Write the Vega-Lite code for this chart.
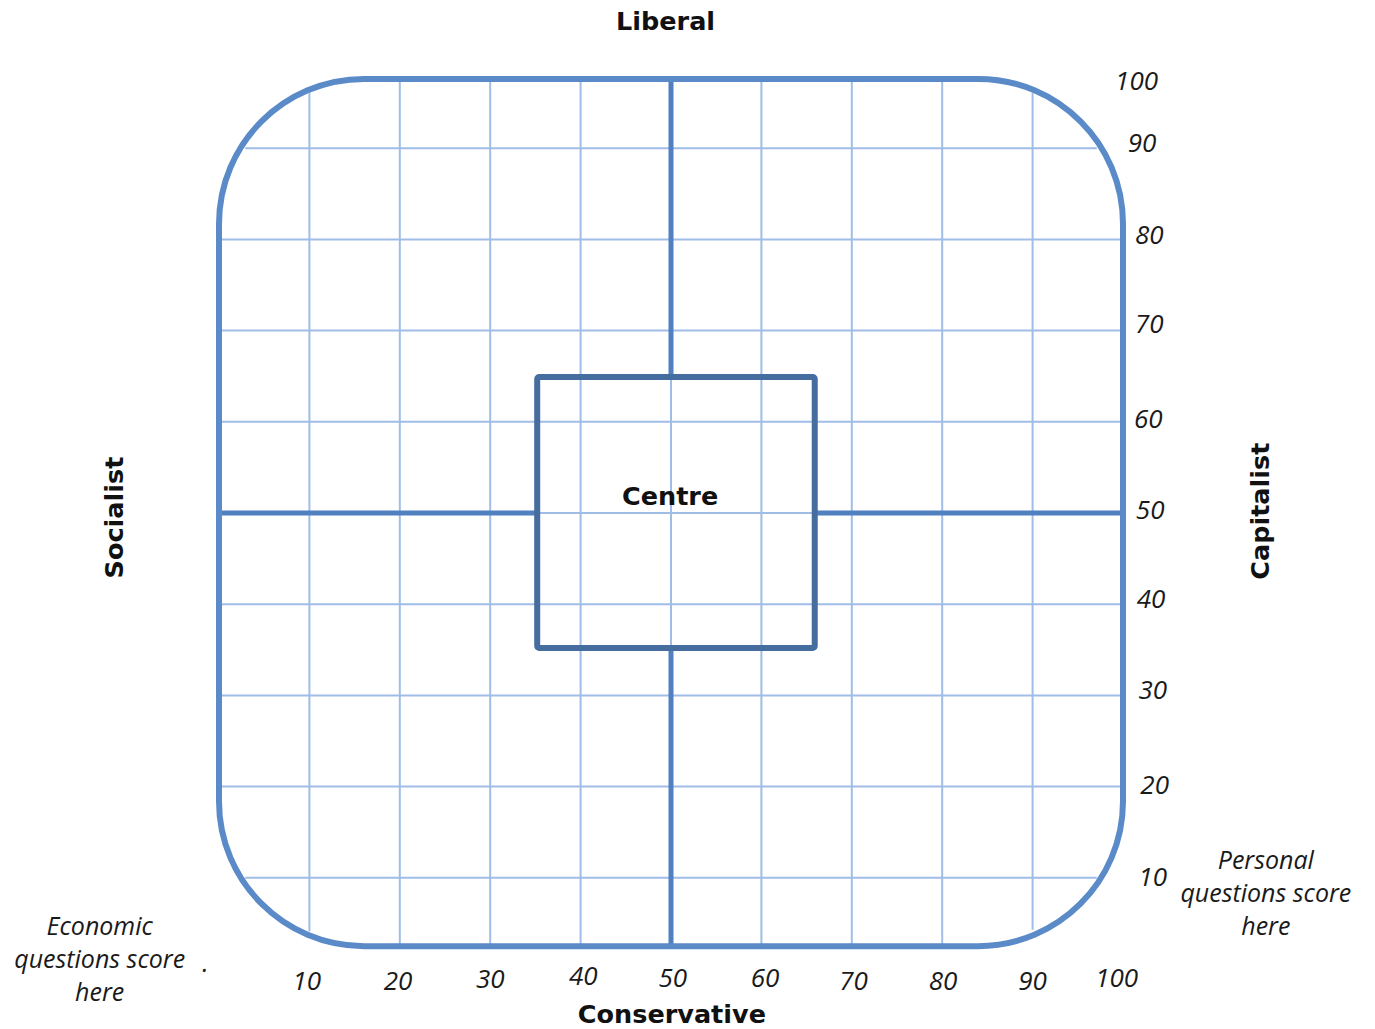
{
  "$schema": "https://vega.github.io/schema/vega-lite/v6.json",
  "width": 904,
  "height": 912,
  "autosize": {"type": "none"},
  "padding": {"left": 219, "top": 57, "right": 252, "bottom": 60},
  "background": "white",
  "config": {"view": {"stroke": null}},
  "datasets": {
    "vgrid": [
      {"x": 10, "y1": 4.1, "y2": 96.3},
      {"x": 20, "y1": 2.5, "y2": 97.6},
      {"x": 30, "y1": 2.5, "y2": 97.6},
      {"x": 40, "y1": 2.5, "y2": 97.6},
      {"x": 50, "y1": 2.5, "y2": 97.6},
      {"x": 60, "y1": 2.5, "y2": 97.6},
      {"x": 70, "y1": 2.5, "y2": 97.6},
      {"x": 80, "y1": 2.5, "y2": 97.6},
      {"x": 90, "y1": 4.3, "y2": 96.1}
    ],
    "hgrid": [
      {"y": 10, "x1": 2.9, "x2": 97.1},
      {"y": 20, "x1": 0, "x2": 100},
      {"y": 30, "x1": 0, "x2": 100},
      {"y": 40, "x1": 0, "x2": 100},
      {"y": 50, "x1": 0, "x2": 100},
      {"y": 60, "x1": 0, "x2": 100},
      {"y": 70, "x1": 0, "x2": 100},
      {"y": 80, "x1": 0, "x2": 100},
      {"y": 90, "x1": 2.9, "x2": 97.1}
    ],
    "cross": [
      {"x1": 50, "x2": 50, "y1": 64.9, "y2": 97.6},
      {"x1": 50, "x2": 50, "y1": 2.5, "y2": 35.2},
      {"x1": 0, "x2": 35.2, "y1": 50, "y2": 50},
      {"x1": 65.9, "x2": 100, "y1": 50, "y2": 50}
    ],
    "frame": [{"x1": 0, "x2": 100, "y1": 2.5, "y2": 97.6}],
    "box": [{"x1": 35.2, "x2": 65.9, "y1": 35.2, "y2": 64.9}],
    "ticks": [
      {"label": "100", "x": 101.5, "y": 97.3},
      {"label": "90", "x": 102.1, "y": 90.5},
      {"label": "80", "x": 102.9, "y": 80.4},
      {"label": "70", "x": 102.9, "y": 70.6},
      {"label": "60", "x": 102.8, "y": 60.2},
      {"label": "50", "x": 103.0, "y": 50.2},
      {"label": "40", "x": 103.1, "y": 40.5},
      {"label": "30", "x": 103.3, "y": 30.5},
      {"label": "20", "x": 103.5, "y": 20.1},
      {"label": "10", "x": 103.3, "y": 10.0},
      {"label": "10", "x": 9.7, "y": -1.4},
      {"label": "20", "x": 19.8, "y": -1.4},
      {"label": "30", "x": 30.0, "y": -1.2},
      {"label": "40", "x": 40.3, "y": -0.9},
      {"label": "50", "x": 50.2, "y": -1.1},
      {"label": "60", "x": 60.4, "y": -1.1},
      {"label": "70", "x": 70.2, "y": -1.4},
      {"label": "80", "x": 80.1, "y": -1.4},
      {"label": "90", "x": 90.0, "y": -1.4},
      {"label": "100", "x": 99.3, "y": -1.1}
    ],
    "titles": [
      {"label": "Liberal", "x": 49.4, "y": 103.8, "angle": 0},
      {"label": "Conservative", "x": 50.1, "y": -5.0, "angle": 0},
      {"label": "Centre", "x": 49.9, "y": 51.8, "angle": 0},
      {"label": "Socialist", "x": -11.5, "y": 49.5, "angle": 270},
      {"label": "Capitalist", "x": 115.3, "y": 50.2, "angle": 270}
    ],
    "notes": [
      {"label": "Economic", "x": -13.2, "y": 4.6},
      {"label": "questions score", "x": -13.2, "y": 1.0},
      {"label": "here", "x": -13.2, "y": -2.6},
      {"label": ".", "x": -1.5, "y": 0.6},
      {"label": "Personal", "x": 115.8, "y": 11.8},
      {"label": "questions score", "x": 115.8, "y": 8.2},
      {"label": "here", "x": 115.8, "y": 4.6}
    ]
  },
  "layer": [
    {
      "data": {"name": "vgrid"},
      "mark": {"type": "rule", "color": "#9fbde6", "strokeWidth": 2},
      "encoding": {
        "x": {"field": "x", "type": "quantitative", "scale": {"domain": [0, 100], "nice": false, "zero": false}, "axis": null},
        "y": {"field": "y1", "type": "quantitative", "scale": {"domain": [0, 100], "nice": false, "zero": false}, "axis": null},
        "y2": {"field": "y2"}
      }
    },
    {
      "data": {"name": "hgrid"},
      "mark": {"type": "rule", "color": "#9fbde6", "strokeWidth": 2},
      "encoding": {
        "y": {"field": "y", "type": "quantitative"},
        "x": {"field": "x1", "type": "quantitative"},
        "x2": {"field": "x2"}
      }
    },
    {
      "data": {"name": "cross"},
      "mark": {"type": "rule", "color": "#5080bf", "strokeWidth": 5},
      "encoding": {
        "x": {"field": "x1", "type": "quantitative"},
        "x2": {"field": "x2"},
        "y": {"field": "y1", "type": "quantitative"},
        "y2": {"field": "y2"}
      }
    },
    {
      "data": {"name": "frame"},
      "mark": {"type": "rect", "fill": null, "fillOpacity": 0, "stroke": "#5a8bc8", "strokeWidth": 6, "cornerRadius": 145},
      "encoding": {
        "x": {"field": "x1", "type": "quantitative"},
        "x2": {"field": "x2"},
        "y": {"field": "y1", "type": "quantitative"},
        "y2": {"field": "y2"}
      }
    },
    {
      "data": {"name": "box"},
      "mark": {"type": "rect", "fill": null, "fillOpacity": 0, "stroke": "#466d9f", "strokeWidth": 6, "cornerRadius": 2},
      "encoding": {
        "x": {"field": "x1", "type": "quantitative"},
        "x2": {"field": "x2"},
        "y": {"field": "y1", "type": "quantitative"},
        "y2": {"field": "y2"}
      }
    },
    {
      "data": {"name": "ticks"},
      "mark": {"type": "text", "font": "Open Sans", "fontStyle": "italic", "fontSize": 26, "color": "#1a1a1a", "align": "center", "baseline": "middle"},
      "encoding": {
        "x": {"field": "x", "type": "quantitative"},
        "y": {"field": "y", "type": "quantitative"},
        "text": {"field": "label"}
      }
    },
    {
      "data": {"name": "titles"},
      "mark": {"type": "text", "font": "DejaVu Sans", "fontWeight": "bold", "fontSize": 25.5, "color": "#111111", "align": "center", "baseline": "middle"},
      "encoding": {
        "x": {"field": "x", "type": "quantitative"},
        "y": {"field": "y", "type": "quantitative"},
        "angle": {"field": "angle", "type": "quantitative", "scale": null},
        "text": {"field": "label"}
      }
    },
    {
      "data": {"name": "notes"},
      "mark": {"type": "text", "font": "Open Sans", "fontStyle": "italic", "fontSize": 25, "color": "#1a1a1a", "align": "center", "baseline": "middle"},
      "encoding": {
        "x": {"field": "x", "type": "quantitative"},
        "y": {"field": "y", "type": "quantitative"},
        "text": {"field": "label"}
      }
    }
  ]
}
